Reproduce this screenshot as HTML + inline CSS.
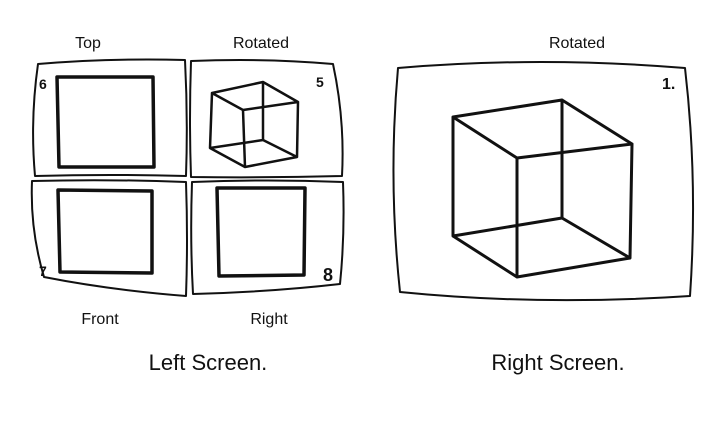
<!DOCTYPE html>
<html><head><style>
body{margin:0;background:#fff;width:724px;height:424px;overflow:hidden}
svg{display:block}
text{font-family:"Liberation Sans",sans-serif;fill:#111}
</style></head><body>
<svg width="724" height="424" viewBox="0 0 724 424" fill="none" stroke="#111" stroke-linejoin="round" stroke-linecap="round">
<g stroke-width="2">
<path d="M38,64 Q110,58 185,60 Q188,118 186,176 Q110,174 35,176 Q30,120 38,64Z"/>
<path d="M191,61 Q265,58 333,64 Q345,120 342,176 Q266,178 191,177 Q189,120 191,61Z"/>
<path d="M32,181 Q110,179 186,182 Q188,240 186,296 Q110,290 44,277 Q30,230 32,181Z"/>
<path d="M192,182 Q268,179 343,182 Q345,235 340,284 Q270,292 193,294 Q190,240 192,182Z"/>
<path d="M398,68 Q540,56 685,68 Q698,180 690,296 Q540,306 400,292 Q388,180 398,68Z"/>
</g>
<g stroke-width="3.5">
<path d="M57,77 L153,77 L154,167 L59,167Z"/>
<path d="M58,190 L152,191 L152,273 L60,272Z"/>
<path d="M217,188 L305,188 L304,275 L219,276Z"/>
</g>
<g stroke-width="2.5">
<path d="M212,93 L263,82 L298,102 L243,110Z M212,93 L210,148 L245,167 L297,157 L298,102 M243,110 L245,167 M263,82 L263,140 L210,148 M263,140 L297,157"/>
</g>
<g stroke-width="3">
<path d="M453,117 L562,100 L632,144 L517,158Z M453,117 L453,236 L517,277 L630,258 L632,144 M517,158 L517,277 M562,100 L562,218 L453,236 M562,218 L630,258"/>
</g>
<g stroke="none" font-size="16">
<text x="88" y="48" text-anchor="middle">Top</text>
<text x="261" y="48" text-anchor="middle">Rotated</text>
<text x="577" y="48" text-anchor="middle">Rotated</text>
<text x="100" y="324" text-anchor="middle">Front</text>
<text x="269" y="324" text-anchor="middle">Right</text>
<text x="208" y="370" text-anchor="middle" font-size="22">Left Screen.</text>
<text x="558" y="370" text-anchor="middle" font-size="22">Right Screen.</text>
<text x="39" y="89" font-weight="bold" font-size="14">6</text>
<text x="316" y="87" font-weight="bold" font-size="14">5</text>
<text x="39" y="276" font-weight="bold" font-size="14">7</text>
<text x="323" y="281" font-weight="bold" font-size="18">8</text>
<text x="662" y="89" font-weight="bold" font-size="16" font-family="Liberation Serif">1.</text>
</g>
</svg>
</body></html>
